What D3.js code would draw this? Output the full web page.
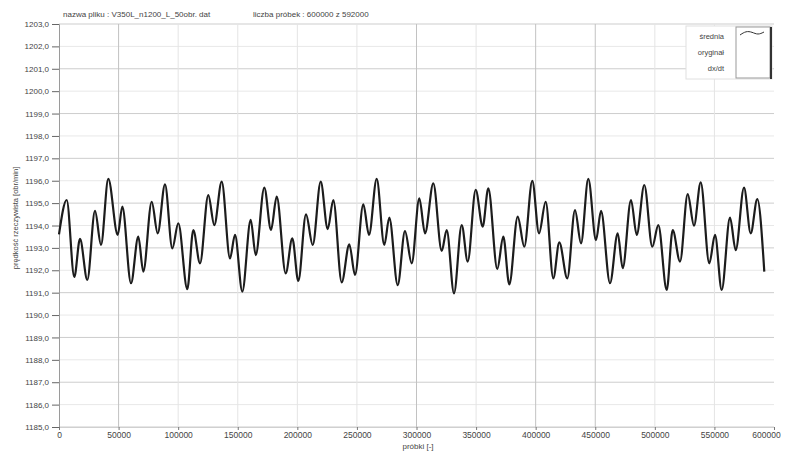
<!DOCTYPE html>
<html>
<head>
<meta charset="utf-8">
<script src="https://cdn.jsdelivr.net/npm/d3@7/dist/d3.min.js"></script>
<style>
  body { margin: 0; background: #fff; }
  text { font-family: "Liberation Sans", Arial, sans-serif; fill: #444; }
</style>
</head>
<body>
<script>
var width = 797; // szerokość
var height = 456; // wysokość

// numer próbki
var samples = [0, 6460, 12840, 17620, 23750, 30210, 35240, 41370, 49260, 53120,
  60420, 66550, 70740, 77790, 82830, 88950, 95080, 100110, 107660, 112700,
  118320, 125290, 130320, 136530, 143500, 147690, 153820, 160870, 165060, 172280,
  177900, 182690, 190240, 195780, 200810, 207270, 212900, 219610, 225480, 230180,
  237230, 243610, 248390, 255360, 260140, 266600, 272980, 277170, 284220, 290340,
  295970, 302350, 307130, 314100, 321150, 325340, 331470, 337930, 342970, 349680,
  355550, 360250, 367800, 372840, 377870, 384920, 390460, 397170, 402800, 408420,
  414790, 419830, 426540, 433010, 438040, 444170, 450630, 454830, 462380, 468840,
  473040, 480000, 484790, 491160, 497880, 502910, 509960, 514990, 521120, 527580,
  532870, 538490, 545700, 550490, 556110, 563080, 567860, 574830, 580450, 585980,
  591860];

// prędkość rzeczywista [obr/min]
var speed = [1193.60, 1195.14, 1191.70, 1193.40, 1191.57, 1194.65, 1193.13, 1196.08, 1193.58, 1194.84,
  1191.42, 1193.50, 1191.94, 1195.06, 1193.65, 1195.84, 1192.98, 1194.10, 1191.16, 1193.80,
  1192.31, 1195.36, 1194.02, 1195.96, 1192.53, 1193.58, 1191.05, 1194.25, 1192.68, 1195.69,
  1193.80, 1195.29, 1191.86, 1193.43, 1191.52, 1194.50, 1193.13, 1195.96, 1193.84, 1195.14,
  1191.46, 1193.16, 1191.79, 1194.95, 1193.58, 1196.08, 1193.13, 1194.35, 1191.34, 1193.75,
  1192.31, 1195.21, 1193.65, 1195.88, 1192.86, 1193.80, 1190.97, 1194.02, 1192.39, 1195.59,
  1193.95, 1195.66, 1192.06, 1193.50, 1191.37, 1194.40, 1193.05, 1195.99, 1193.65, 1195.06,
  1191.64, 1193.25, 1191.64, 1194.69, 1193.20, 1196.08, 1193.35, 1194.65, 1191.42, 1193.65,
  1192.09, 1195.14, 1193.58, 1195.81, 1193.05, 1194.02, 1191.12, 1193.80, 1192.39, 1195.40,
  1193.99, 1195.93, 1192.31, 1193.58, 1191.12, 1194.35, 1192.90, 1195.69, 1193.65, 1195.18,
  1191.94];

var xTicks = [0, 50000, 100000, 150000, 200000, 250000, 300000, 350000, 400000, 450000, 500000, 550000, 600000];
var xDarkGrid = [50000, 300000, 400000, 450000];
var yTicks = [1185, 1186, 1187, 1188, 1189, 1190, 1191, 1192, 1193, 1194,
  1195, 1196, 1197, 1198, 1199, 1200, 1201, 1202, 1203];
var legendItems = ["średnia", "oryginał", "dx/dt"];

var svg = d3.select("body")
  .append("svg")
  .attr("width", width)
  .attr("height", height);

svg.append("rect").attr("width", width).attr("height", height).attr("fill", "#fff");

var x = d3.scaleLinear()
  .domain([0, 600000])
  .range([59, 774]);

var y = d3.scaleLinear()
  .domain([1185, 1203])
  .range([427, 24]);

var comma = function(d) { return d3.format(".1f")(d).replace(".", ","); };

// siatka pozioma
svg.append("g")
  .selectAll("line")
  .data(yTicks)
  .enter()
  .append("line")
  .attr("x1", x(0))
  .attr("x2", x(600000))
  .attr("y1", function(d) { return y(d); })
  .attr("y2", function(d) { return y(d); })
  .attr("stroke", function(d) { return d % 2 === 1 ? "#cdcdcd" : "#e8e8e8"; })
  .attr("stroke-width", 1);

// siatka pionowa
svg.append("g")
  .selectAll("line")
  .data(xTicks.slice(1, -1))
  .enter()
  .append("line")
  .attr("x1", function(d) { return x(d); })
  .attr("x2", function(d) { return x(d); })
  .attr("y1", y(1203))
  .attr("y2", y(1185))
  .attr("stroke", function(d) { return xDarkGrid.indexOf(d) >= 0 ? "#c2c2c2" : "#e4e4e4"; })
  .attr("stroke-width", 1);

// oś Y
var yAxis = svg.append("g")
  .attr("transform", "translate(" + x(0) + ",0)")
  .call(d3.axisLeft(y).tickValues(yTicks).tickSize(7).tickPadding(3).tickFormat(comma));
yAxis.select(".domain").attr("stroke", "#9a9a9a");
yAxis.selectAll(".tick line").attr("stroke", "#666");
yAxis.selectAll("text").attr("font-size", "8px").attr("fill", "#444");

// oś X
var xAxis = svg.append("g")
  .attr("transform", "translate(0," + y(1185) + ")")
  .call(d3.axisBottom(x).tickValues(xTicks).tickSize(3).tickPadding(2).tickFormat(d3.format("d")));
xAxis.select(".domain").attr("stroke", "#d0d0d0");
xAxis.selectAll(".tick line").attr("stroke", "#777");
xAxis.selectAll("text").attr("font-size", "8.5px").attr("fill", "#444")
  .attr("dx", function(d) { return d === 600000 ? "-8" : "0"; });

// przebieg
var line = d3.line()
  .x(function(d) { return x(d[0]); })
  .y(function(d) { return y(d[1]); })
  .curve(d3.curveMonotoneX);

svg.append("path")
  .datum(d3.zip(samples, speed))
  .attr("d", line)
  .attr("fill", "none")
  .attr("stroke", "#1c1c1c")
  .attr("stroke-width", 2.2)
  .attr("stroke-linejoin", "round");

// nagłówek
svg.append("text")
  .attr("x", 63).attr("y", 17)
  .attr("font-size", "8px")
  .text("nazwa pliku : V350L_n1200_L_50obr. dat");
svg.append("text")
  .attr("x", 253).attr("y", 17)
  .attr("font-size", "8px")
  .text("liczba próbek : 600000 z 592000");

// opisy osi
svg.append("text")
  .attr("transform", "translate(18,218) rotate(-90)")
  .attr("text-anchor", "middle")
  .attr("font-size", "7.5px")
  .text("prędkość rzeczywista [obr/min]");
svg.append("text")
  .attr("x", 418).attr("y", 449)
  .attr("text-anchor", "middle")
  .attr("font-size", "8px")
  .text("próbki [-]");

// legenda
var legend = svg.append("g");
legend.append("rect")
  .attr("x", 686).attr("y", 26).attr("width", 86).attr("height", 53)
  .attr("fill", "#fff").attr("stroke", "#e0e0e0");
legend.append("rect")
  .attr("x", 736).attr("y", 27).attr("width", 34).attr("height", 51)
  .attr("fill", "#fff").attr("stroke", "#999");
legend.append("line")
  .attr("x1", 771).attr("x2", 771).attr("y1", 27).attr("y2", 79)
  .attr("stroke", "#333").attr("stroke-width", 2);
legend.selectAll(".lbl")
  .data(legendItems)
  .enter()
  .append("text")
  .attr("class", "lbl")
  .attr("x", 724)
  .attr("y", function(d, i) { return 39 + i * 16; })
  .attr("text-anchor", "end")
  .attr("font-size", "7.5px")
  .text(function(d) { return d; });
legend.append("path")
  .datum([[740, 35], [746, 31], [752, 32], [758, 35], [764, 32]])
  .attr("d", d3.line().curve(d3.curveBasis))
  .attr("fill", "none")
  .attr("stroke", "#333")
  .attr("stroke-width", 1);
</script>
</body>
</html>
